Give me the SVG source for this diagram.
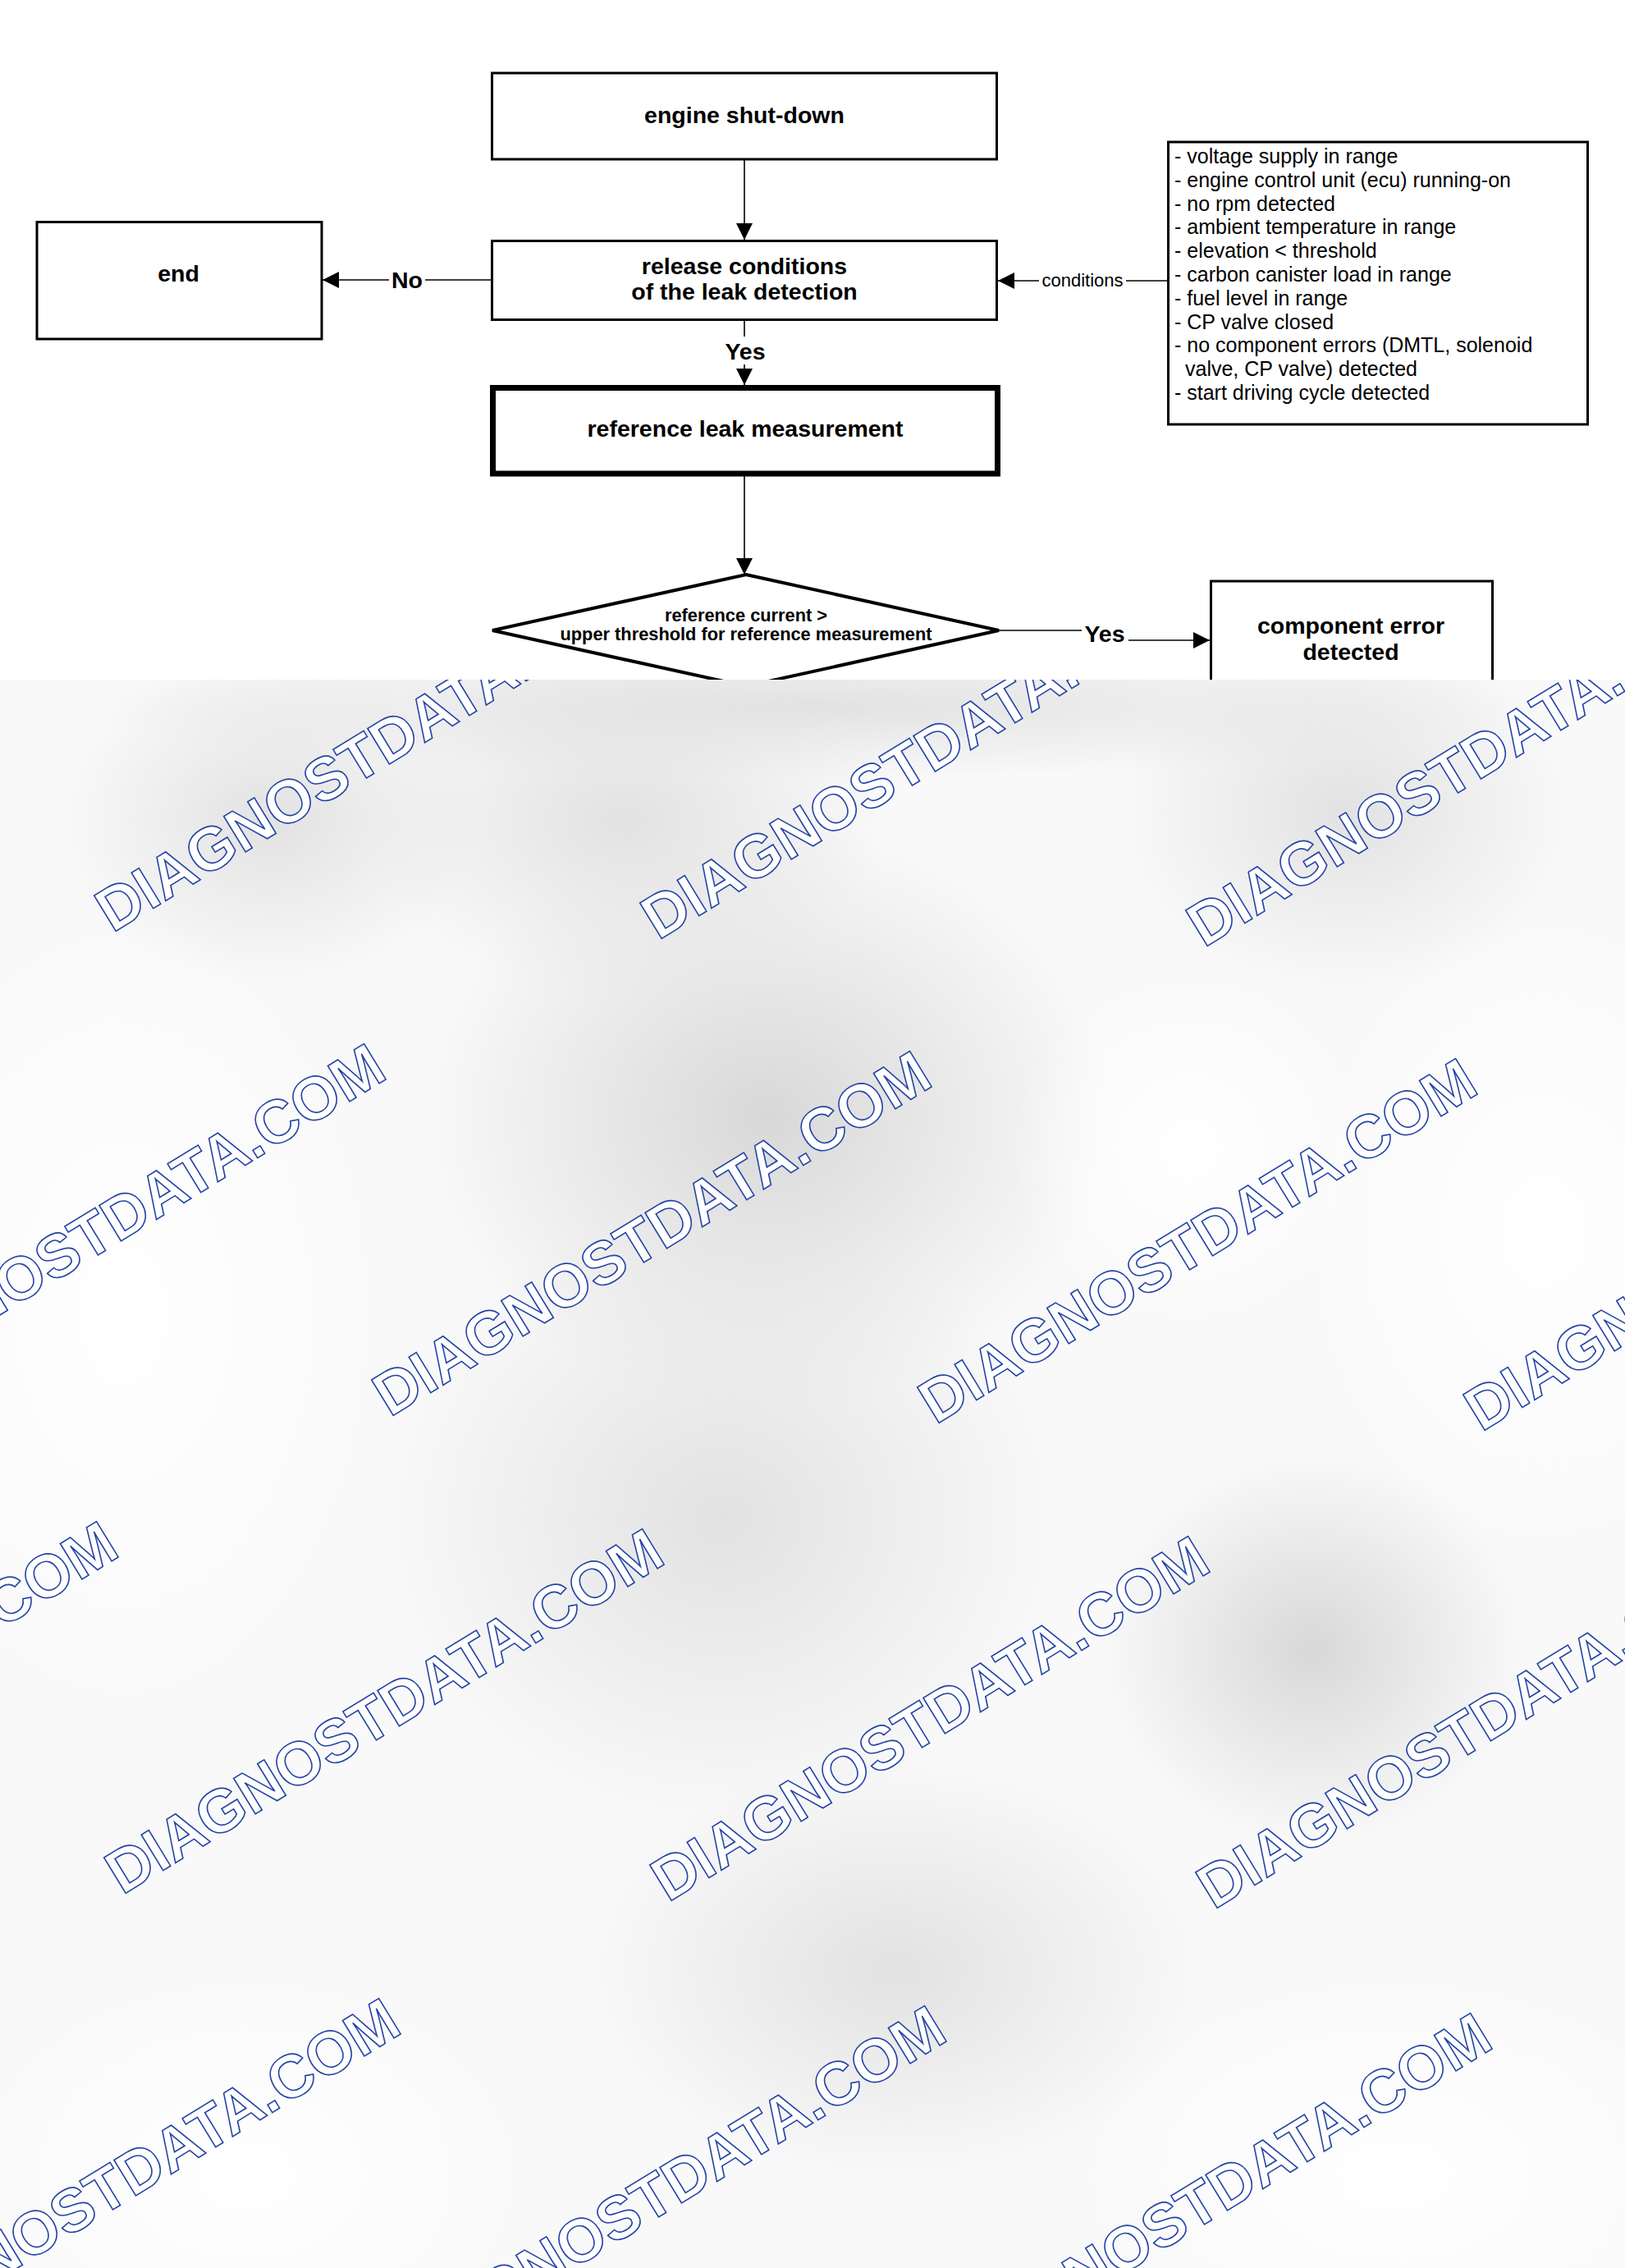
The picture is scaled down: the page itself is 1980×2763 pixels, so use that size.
<svg xmlns="http://www.w3.org/2000/svg" width="1980" height="2763" viewBox="0 0 1980 2763">
<style>
.box{fill:#fff;stroke:#000;stroke-width:3}
.thick{fill:#fff;stroke:#000;stroke-width:7}
.dia{fill:#fff;stroke:#000;stroke-width:4;stroke-linejoin:miter}
.t{font-family:"Liberation Sans",Arial,Helvetica,sans-serif;font-weight:bold;font-size:28.5px;fill:#000;text-anchor:middle}
.ts{font-family:"Liberation Sans",Arial,Helvetica,sans-serif;font-weight:bold;font-size:21.8px;fill:#000;text-anchor:middle}
.lst{font-family:"Liberation Sans",Arial,Helvetica,sans-serif;font-size:25px;fill:#000}
.lbl{font-family:"Liberation Sans",Arial,Helvetica,sans-serif;font-size:22px;fill:#000;text-anchor:middle}
.con{stroke:#000;stroke-width:1.6;fill:none}
.wm{font-family:"Liberation Sans",Arial,Helvetica,sans-serif;font-weight:bold;font-size:74px;fill:#fff;stroke:#2444a6;stroke-width:1.6}
</style>
<defs>
<marker id="arr" markerUnits="userSpaceOnUse" markerWidth="20" markerHeight="20" refX="20" refY="10" orient="auto">
<path d="M0,0 L20,10 L0,20 z" fill="#000"/>
</marker>
<radialGradient id="gd">
<stop offset="0" stop-color="#d8d8d8" stop-opacity="1"/>
<stop offset="1" stop-color="#d8d8d8" stop-opacity="0"/>
</radialGradient>
<radialGradient id="gm">
<stop offset="0" stop-color="#e2e2e2" stop-opacity="1"/>
<stop offset="1" stop-color="#e2e2e2" stop-opacity="0"/>
</radialGradient>
<radialGradient id="gw">
<stop offset="0" stop-color="#ffffff" stop-opacity="1"/>
<stop offset="1" stop-color="#ffffff" stop-opacity="0"/>
</radialGradient>
<clipPath id="lower"><rect x="0" y="828" width="1980" height="1935"/></clipPath>
</defs>
<rect x="0" y="0" width="1980" height="2763" fill="#fff"/>

<g id="connectors">
<line class="con" x1="907" y1="195" x2="907" y2="292" marker-end="url(#arr)"/>
<line class="con" x1="598" y1="341" x2="518" y2="341"/>
<line class="con" x1="474" y1="341" x2="393" y2="341" marker-end="url(#arr)"/>
<text class="t" x="496" y="351">No</text>
<line class="con" x1="1422" y1="342" x2="1372" y2="342"/>
<line class="con" x1="1266" y1="342" x2="1216" y2="342" marker-end="url(#arr)"/>
<text class="lbl" x="1319" y="349">conditions</text>
<line class="con" x1="907" y1="390" x2="907" y2="410"/>
<line class="con" x1="907" y1="444" x2="907" y2="469" marker-end="url(#arr)"/>
<text class="t" x="908" y="438">Yes</text>
<line class="con" x1="907" y1="580" x2="907" y2="700" marker-end="url(#arr)"/>
<line class="con" x1="1217" y1="768" x2="1318" y2="768"/>
<line class="con" x1="1375" y1="780" x2="1474" y2="780" marker-end="url(#arr)"/>
<text class="t" x="1346" y="782">Yes</text>
</g>

<g id="engine-shutdown">
<rect class="box" x="599.5" y="89" width="615" height="105"/>
<text class="t" x="907" y="150">engine shut-down</text>
</g>
<g id="release-conditions">
<rect class="box" x="599.5" y="293.5" width="615" height="96"/>
<text class="t" x="907" y="334">release conditions</text>
<text class="t" x="907" y="365">of the leak detection</text>
</g>
<g id="end">
<rect class="box" x="45" y="270.5" width="347" height="142.5"/>
<text class="t" x="217.5" y="343">end</text>
</g>
<g id="conditions">
<rect class="box" x="1423.5" y="173" width="511" height="344"/>
<text class="lst" x="1431" y="199">- voltage supply in range</text>
<text class="lst" x="1431" y="227.8">- engine control unit (ecu) running-on</text>
<text class="lst" x="1431" y="256.6">- no rpm detected</text>
<text class="lst" x="1431" y="285.4">- ambient temperature in range</text>
<text class="lst" x="1431" y="314.2">- elevation &lt; threshold</text>
<text class="lst" x="1431" y="343">- carbon canister load in range</text>
<text class="lst" x="1431" y="371.8">- fuel level in range</text>
<text class="lst" x="1431" y="400.6">- CP valve closed</text>
<text class="lst" x="1431" y="429.4">- no component errors (DMTL, solenoid</text>
<text class="lst" x="1444" y="458.2">valve, CP valve) detected</text>
<text class="lst" x="1431" y="487">- start driving cycle detected</text>
</g>
<g id="reference-leak">
<rect class="thick" x="600.5" y="472.5" width="615" height="104.5"/>
<text class="t" x="908" y="532">reference leak measurement</text>
</g>
<g id="decision">
<polygon class="dia" points="909,700 1217,768 909,836 600,768"/>
<text class="ts" x="909" y="757">reference current &gt;</text>
<text class="ts" x="909" y="780">upper threshold for reference measurement</text>
</g>
<g id="component-error">
<rect class="box" x="1475.5" y="708" width="343" height="200"/>
<text class="t" x="1646" y="772">component error</text>
<text class="t" x="1646" y="804">detected</text>
</g>

<g id="watermark-area" clip-path="url(#lower)">
<rect x="0" y="828" width="1980" height="1935" fill="#f9f9f9"/>
<ellipse cx="990" cy="860" rx="900" ry="90" fill="url(#gm)"/>
<ellipse cx="934" cy="1360" rx="420" ry="360" fill="url(#gd)"/>
<ellipse cx="760" cy="1000" rx="320" ry="220" fill="url(#gm)"/>
<ellipse cx="1640" cy="990" rx="280" ry="220" fill="url(#gm)"/>
<ellipse cx="880" cy="1850" rx="420" ry="380" fill="url(#gm)"/>
<ellipse cx="1600" cy="2010" rx="260" ry="240" fill="url(#gd)"/>
<ellipse cx="1090" cy="2400" rx="380" ry="260" fill="url(#gm)"/>
<ellipse cx="330" cy="1000" rx="260" ry="200" fill="url(#gm)"/>
<ellipse cx="1880" cy="1500" rx="300" ry="400" fill="url(#gw)"/>
<ellipse cx="150" cy="1600" rx="320" ry="500" fill="url(#gw)"/>
<ellipse cx="1450" cy="1400" rx="220" ry="220" fill="url(#gw)"/>
<ellipse cx="1700" cy="2650" rx="400" ry="250" fill="url(#gw)"/>
<ellipse cx="300" cy="2650" rx="350" ry="250" fill="url(#gw)"/>
<text class="wm" transform="translate(137,1137) rotate(-31.4)">DIAGNOSTDATA.COM</text>
<text class="wm" transform="translate(802,1146) rotate(-31.4)">DIAGNOSTDATA.COM</text>
<text class="wm" transform="translate(1467,1155) rotate(-31.4)">DIAGNOSTDATA.COM</text>
<text class="wm" transform="translate(-190,1718) rotate(-31.4)">DIAGNOSTDATA.COM</text>
<text class="wm" transform="translate(475,1727) rotate(-31.4)">DIAGNOSTDATA.COM</text>
<text class="wm" transform="translate(1140,1736) rotate(-31.4)">DIAGNOSTDATA.COM</text>
<text class="wm" transform="translate(1805,1745) rotate(-31.4)">DIAGNOSTDATA.COM</text>
<text class="wm" transform="translate(-516,2300) rotate(-31.4)">DIAGNOSTDATA.COM</text>
<text class="wm" transform="translate(149,2309) rotate(-31.4)">DIAGNOSTDATA.COM</text>
<text class="wm" transform="translate(814,2318) rotate(-31.4)">DIAGNOSTDATA.COM</text>
<text class="wm" transform="translate(1479,2327) rotate(-31.4)">DIAGNOSTDATA.COM</text>
<text class="wm" transform="translate(-172,2881) rotate(-31.4)">DIAGNOSTDATA.COM</text>
<text class="wm" transform="translate(493,2890) rotate(-31.4)">DIAGNOSTDATA.COM</text>
<text class="wm" transform="translate(1158,2899) rotate(-31.4)">DIAGNOSTDATA.COM</text>
</g>
</svg>
